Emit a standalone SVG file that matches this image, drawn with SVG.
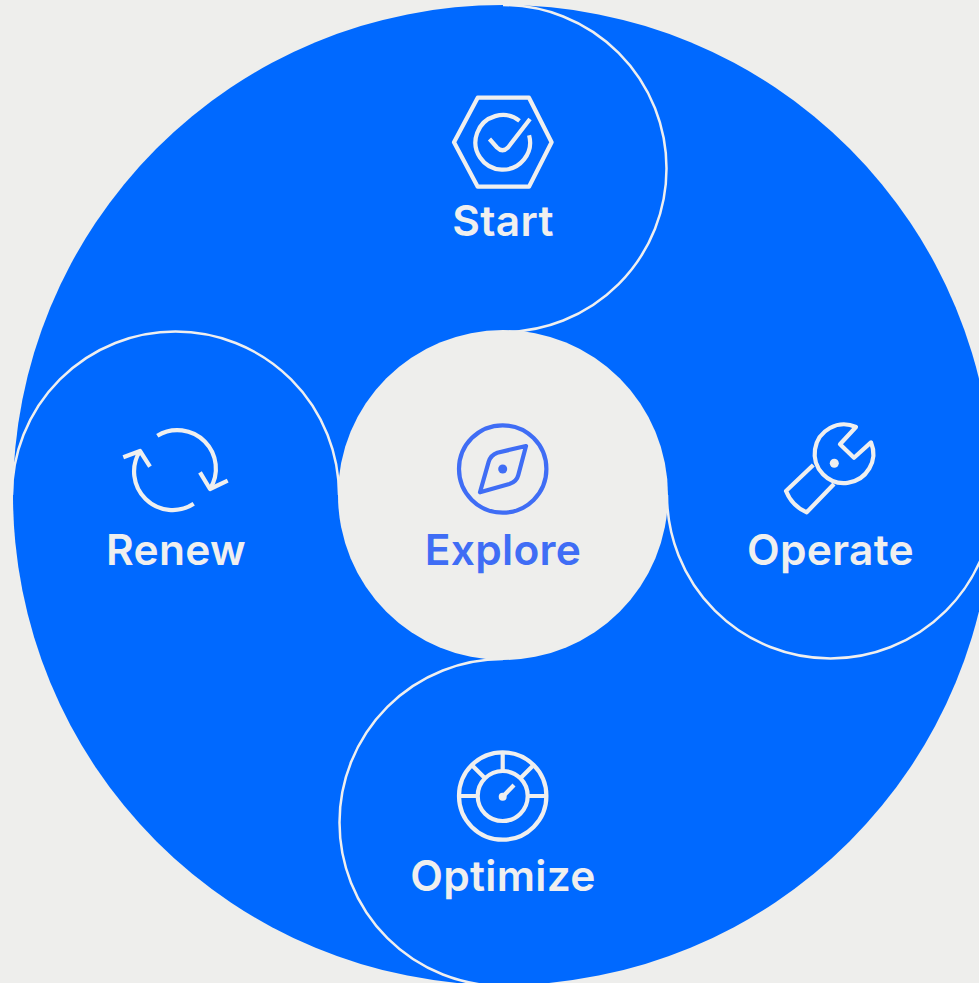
<svg xmlns="http://www.w3.org/2000/svg" width="979" height="983" viewBox="0 0 979 983">
<style>
.ic{fill:none;stroke:#EFEFEF;stroke-width:4.200;stroke-linecap:butt;stroke-linejoin:round}
.ib{fill:none;stroke:#3F6DF5;stroke-width:4.200;stroke-linejoin:round}
.arc{fill:none;stroke:#EFEFEF;stroke-width:2.500}
text{font-family:"Inter","Liberation Sans",sans-serif;font-weight:600;font-size:42.500px;letter-spacing:0.300px;text-anchor:middle;fill:#EFEFEF}
</style>
<rect width="979" height="983" fill="#EEEEEC"/>
<circle cx="503" cy="495" r="490" fill="#0069FF"/>
<g id="connectors">
<path class="arc" d="M503 5A163.500 163.500 0 0 1 503 332"/>
<path class="arc" d="M667 495A163.500 163.500 0 0 0 994 495"/>
<path class="arc" d="M503 659A163.500 163.500 0 0 0 503 986"/>
<path class="arc" d="M339 495A163.500 163.500 0 0 0 12 495"/>
</g>
<g id="start">
<path class="ic" d="M454 142.300L477.700 97.700H529L551.600 142.300L529 186.700H477.700Z"/>
<path class="ic" d="M519.500 120.800A27.300 27.300 0 1 0 529.100 135.200"/>
<path class="ic" d="M489.500 139L497 147.500Q502.500 153 508 147.500L530 119"/>
<text x="503" y="236">Start</text>
</g>
<g id="operate">
<path class="ic" d="M856 427L840 444.300L854 457.700L871 442.400A29.300 29.300 0 1 1 856 427Z"/>
<path class="ic" d="M813.300 465L786 491Q792 506 806.700 512.300L834 484"/>
<circle cx="834.300" cy="463.300" r="4.500" fill="#EFEFEF"/>
<text x="830.500" y="565">Operate</text>
</g>
<g id="optimize">
<circle class="ic" cx="502.700" cy="796" r="43.700"/>
<circle class="ic" cx="502.700" cy="796" r="25"/>
<path class="ic" d="M502.700 753V773M472 765.300L485 778.300M533.400 765.300L520.400 778.300M459 796H477.700M527.700 796H546.400M502.700 796.700L514 785"/>
<circle cx="502.700" cy="796.700" r="4" fill="#EFEFEF"/>
<text x="503" y="891">Optimize</text>
</g>
<g id="renew">
<path class="ic" d="M157.300 435.700A38.500 38.500 0 0 1 210 489"/>
<path class="ic" d="M200 472.300L210 489L227.700 480.700"/>
<path class="ic" d="M193.700 503.700A38.500 38.500 0 0 1 140 451"/>
<path class="ic" d="M123.300 457.300L140 451L150 466.700"/>
<text x="176" y="565">Renew</text>
</g>
<g id="explore">
<circle cx="503" cy="495" r="165" fill="#EEEEEC"/>
<circle class="ib" cx="502.700" cy="469" r="43.700"/>
<path class="ib" d="M526 446L497.300 452.700Q490.700 455 488.700 461.700L480 492.300L509.300 484Q516.700 481.700 518.300 475Z"/>
<circle cx="502.700" cy="469" r="4.500" fill="#3F6DF5"/>
<text x="503" y="565" style="fill:#3F6DF5">Explore</text>
</g>
</svg>
